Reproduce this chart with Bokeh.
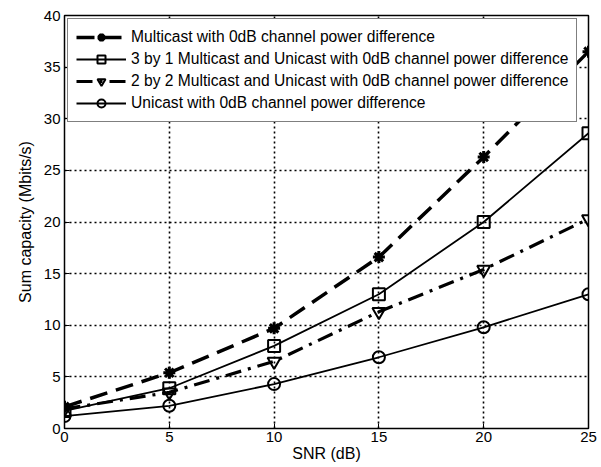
from bokeh.plotting import figure
from bokeh.models import Range1d, FixedTicker, Legend, LegendItem
from bokeh.embed import file_html
from bokeh.resources import INLINE

snr = [0, 5, 10, 15, 20, 25]
multicast = [2.1, 5.4, 9.7, 16.6, 26.3, 36.5]
mu_3by1 = [1.7, 3.9, 8.0, 13.0, 20.0, 28.6]
mu_2by2 = [1.9, 3.5, 6.5, 11.3, 15.4, 20.3]
unicast = [1.2, 2.2, 4.3, 6.9, 9.8, 13.0]

labels = [
    "Multicast with 0dB channel power difference",
    "3 by 1 Multicast and Unicast with 0dB channel power difference",
    "2 by 2 Multicast and Unicast with 0dB channel power difference",
    "Unicast with 0dB channel power difference",
]
x_ticks = [0, 5, 10, 15, 20, 25]
y_ticks = [0, 5, 10, 15, 20, 25, 30, 35, 40]

FONT = "Liberation Sans"

p = figure(width=600, height=467, output_backend="svg", toolbar_location=None,
           x_range=Range1d(0, 25), y_range=Range1d(0, 40),
           min_border_left=64, min_border_right=12, min_border_top=15, min_border_bottom=39)

p.outline_line_color = "black"
p.outline_line_width = 1.5
p.background_fill_color = "white"

for ax in [p.xaxis[0], p.yaxis[0]]:
    ax.major_label_text_font = FONT
    ax.major_label_text_font_size = "15px"
    ax.major_label_text_color = "black"
    ax.axis_label_text_font = FONT
    ax.axis_label_text_font_size = "16px"
    ax.axis_label_text_font_style = "normal"
    ax.axis_label_text_color = "black"
    ax.axis_line_color = None
    ax.major_tick_in = 5
    ax.major_tick_out = 0
    ax.minor_tick_line_color = None
    ax.major_tick_line_color = "black"

p.xaxis.ticker = FixedTicker(ticks=x_ticks)
p.yaxis.ticker = FixedTicker(ticks=y_ticks)
p.xaxis.axis_label = "SNR (dB)"
p.yaxis.axis_label = "Sum capacity (Mbits/s)"
p.xaxis.major_label_standoff = 3
p.xaxis.axis_label_standoff = 0
p.yaxis.major_label_standoff = 4
p.yaxis.axis_label_standoff = 7

p.xgrid.ticker = FixedTicker(ticks=x_ticks)
p.ygrid.ticker = FixedTicker(ticks=y_ticks)
for g in [p.xgrid[0], p.ygrid[0]]:
    g.grid_line_color = "black"
    g.grid_line_dash = "2 3"
    g.grid_line_width = 1.6
    g.grid_line_alpha = 1.0

items = []
r1 = p.line(snr, multicast, line_color="black", line_width=3.5, line_dash="18 9")
m1 = p.scatter(snr, multicast, marker="asterisk", size=12, line_color="black", line_width=3)
items.append(LegendItem(label=labels[0], renderers=[r1, m1]))

r2 = p.line(snr, mu_3by1, line_color="black", line_width=1.8)
m2 = p.scatter(snr, mu_3by1, marker="square", size=12, line_color="black", fill_color=None, line_width=2)
items.append(LegendItem(label=labels[1], renderers=[r2, m2]))

r3 = p.line(snr, mu_2by2, line_color="black", line_width=3.2, line_dash="16 7 3 7")
m3 = p.scatter(snr, mu_2by2, marker="inverted_triangle", size=13, line_color="black", fill_color=None, line_width=2)
items.append(LegendItem(label=labels[2], renderers=[r3, m3]))

r4 = p.line(snr, unicast, line_color="black", line_width=1.8)
m4 = p.scatter(snr, unicast, marker="circle", size=12, line_color="black", fill_color=None, line_width=2)
items.append(LegendItem(label=labels[3], renderers=[r4, m4]))

legend = Legend(items=items, location="top_left")
legend.label_text_font = FONT
legend.label_text_font_size = "15.6px"
legend.label_text_color = "black"
legend.glyph_width = 50
legend.glyph_height = 20
legend.label_height = 20
legend.spacing = 2
legend.padding = 8
legend.margin = 3
legend.label_standoff = 5
legend.border_line_color = "black"
legend.border_line_width = 1.5
legend.background_fill_color = "white"
legend.background_fill_alpha = 1.0
p.add_layout(legend)

open("out.html", "w").write(file_html(p, INLINE))
